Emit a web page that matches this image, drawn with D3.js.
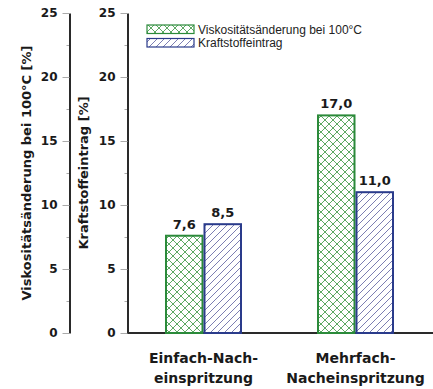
<!DOCTYPE html>
<html>
<head>
<meta charset="utf-8">
<script src="https://cdn.jsdelivr.net/npm/d3@7/dist/d3.min.js"></script>
<style>
  html, body { margin: 0; padding: 0; background: #fff; }
  svg { display: block; }
  .bold { font-family: "DejaVu Sans", sans-serif; font-weight: bold; fill: #1a1a1a; }
</style>
</head>
<body>
<svg id="chart" width="433" height="389"></svg>
<script>
// Data
const categories = ["Einfach-Nach-\neinspritzung", "Mehrfach-\nNacheinspritzung"];
const seriesNames = ["Viskositätsänderung bei 100°C", "Kraftstoffeintrag"];
const viscosityChange = [7.6, 17.0];
const fuelEntry = [8.5, 11.0];
const majorTicks = [0, 5, 10, 15, 20, 25];
const minorTicks = [2.5, 7.5, 12.5, 17.5, 22.5];
const axisTitles = ["Viskositätsänderung bei 100°C [%]", "Kraftstoffeintrag [%]"];

const rows = categories.map((c, i) => ({
  category: c,
  values: [
    { key: seriesNames[0], value: viscosityChange[i] },
    { key: seriesNames[1], value: fuelEntry[i] }
  ]
}));

const svg = d3.select("#chart");
const deFormat = d3.formatLocale({ decimal: ",", thousands: ".", grouping: [3], currency: ["", " €"] }).format(".1f");

// Patterns: green cross-hatch and blue diagonal hatch
const defs = svg.append("defs");
const cross = defs.append("pattern").attr("id", "pat-cross")
  .attr("patternUnits", "userSpaceOnUse").attr("width", 8).attr("height", 8);
cross.append("rect").attr("width", 8).attr("height", 8).attr("fill", "#fff");
cross.append("path").attr("d", "M0,0L8,8M8,0L0,8")
  .attr("stroke", "#5ea964").attr("stroke-width", 1).attr("fill", "none");

const diag = defs.append("pattern").attr("id", "pat-diag")
  .attr("patternUnits", "userSpaceOnUse").attr("width", 7).attr("height", 7);
diag.append("rect").attr("width", 7).attr("height", 7).attr("fill", "#fff");
diag.append("path").attr("d", "M0,7L7,0M-1,1L1,-1M6,8L8,6")
  .attr("stroke", "#7c7eb2").attr("stroke-width", 1).attr("fill", "none");

const fills = { [seriesNames[0]]: "url(#pat-cross)", [seriesNames[1]]: "url(#pat-diag)" };
const strokes = { [seriesNames[0]]: "#2b8a3a", [seriesNames[1]]: "#2a3b8b" };

// Scales
const y = d3.scaleLinear().domain([0, 25]).range([333, 13]);
const x0 = d3.scaleBand().domain(categories).range([127.5, 431.5])
  .paddingInner(0.4934).paddingOuter(0.2467);
const x1 = d3.scaleBand().domain(seriesNames).range([0, x0.bandwidth()]).padding(0);

// Vertical axes (two identical 0–25 scales)
function drawAxis(xPos) {
  const g = svg.append("g").attr("transform", `translate(${xPos},0)`);
  g.append("g").call(d3.axisLeft(y).tickValues(minorTicks).tickSize(3).tickSizeOuter(0).tickFormat(""))
    .call(s => s.select(".domain").remove())
    .call(s => s.selectAll(".tick line").attr("stroke", "#aaa"));
  g.append("g").call(d3.axisLeft(y).tickValues(majorTicks).tickSize(7).tickPadding(5).tickSizeOuter(0))
    .call(s => s.select(".domain").attr("stroke", "#2a2a2a").attr("stroke-width", 2))
    .call(s => s.selectAll(".tick line").attr("stroke", "#aaa"))
    .call(s => s.selectAll(".tick text").attr("class", "bold")
      .style("font-size", "12px").attr("fill", "#1a1a1a"));
  return g;
}
drawAxis(69.5);
drawAxis(127.5);

// Axis titles
const titleX = [31, 88];
axisTitles.forEach((t, i) => {
  svg.append("text").attr("class", "bold")
    .attr("transform", `translate(${titleX[i]},173) rotate(-90)`)
    .attr("text-anchor", "middle").style("font-size", "13px").text(t);
});

// Category axis
const xAxis = svg.append("g").attr("transform", "translate(0,333)")
  .call(d3.axisBottom(x0).tickSize(0).tickSizeOuter(0));
xAxis.select(".domain").attr("stroke", "#2a2a2a").attr("stroke-width", 2)
  .attr("d", `M${x0.range()[0]},0H433`);
xAxis.selectAll(".tick text").each(function (d) {
  const t = d3.select(this).attr("class", "bold").attr("dy", null).attr("y", null)
    .style("font-size", "14px").attr("fill", "#1a1a1a").text("");
  d.split("\n").forEach((line, k) => {
    t.append("tspan").attr("x", 0).attr("y", 29.7 + k * 20).text(line);
  });
});

// Bars
const groups = svg.append("g").selectAll("g").data(rows).join("g")
  .attr("transform", d => `translate(${x0(d.category)},0)`);
groups.selectAll("rect").data(d => d.values).join("rect")
  .attr("x", d => x1(d.key) + 1)
  .attr("width", x1.bandwidth() - 2)
  .attr("y", d => y(d.value))
  .attr("height", d => y(0) - y(d.value))
  .attr("fill", d => fills[d.key])
  .attr("stroke", d => strokes[d.key])
  .attr("stroke-width", 2);
groups.selectAll("text.val").data(d => d.values).join("text")
  .attr("class", "bold val")
  .attr("x", d => x1(d.key) + x1.bandwidth() / 2)
  .attr("y", d => y(d.value) - 7)
  .attr("text-anchor", "middle").style("font-size", "13px")
  .text(d => deFormat(d.value));

// Legend
const legend = svg.append("g").attr("transform", "translate(147,0)");
seriesNames.forEach((name, i) => {
  const base = 33.5 + i * 13.5;
  legend.append("rect").attr("x", 0).attr("y", base - 8.5).attr("width", 47).attr("height", 8.5)
    .attr("fill", fills[name]).attr("stroke", strokes[name]).attr("stroke-width", 1.2);
  legend.append("text").attr("x", 51).attr("y", base)
    .style("font-family", "'Liberation Sans', Arial, sans-serif").style("font-size", "12px")
    .attr("fill", "#222").text(name);
});
</script>
</body>
</html>
